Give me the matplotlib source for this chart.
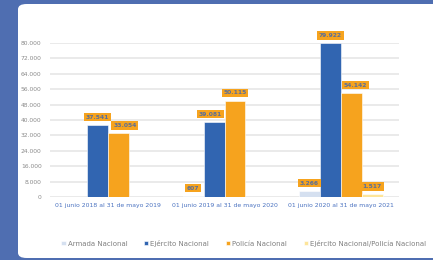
import matplotlib.pyplot as plt
import numpy as np
from matplotlib.patches import FancyBboxPatch

categories = ['01 junio 2018 al 31 de mayo 2019',
              '01 junio 2019 al 31 de mayo 2020',
              '01 junio 2020 al 31 de mayo 2021']
series_names = ['Armada Nacional', 'Ejército Nacional', 'Policía Nacional',
                'Ejército Nacional/Policía Nacional']
armada = [0, 607, 3266]
ejercito = [37541, 39081, 79922]
policia = [33054, 50115, 54142]
ej_pol = [0, 0, 1517]
yticks = [0, 8000, 16000, 24000, 32000, 40000, 48000, 56000, 64000, 72000, 80000]

colors = ['#d5e0f0', '#3165b1', '#f6a31e', '#fde59a']
series = [armada, ejercito, policia, ej_pol]

# small nudges (points) for labels that the original moved to avoid overlap
label_nudge = {(2, 0): 4.5, (1, 1): -2.5, (2, 2): 3.0}

fig = plt.figure(figsize=(4.33, 2.6), dpi=100)
fig.patch.set_facecolor('#4f6eb1')
# white card behind everything
card = FancyBboxPatch((18 / 433, 2 / 260), 1.2, 254 / 260,
                      boxstyle='round,pad=0,rounding_size=0.02',
                      transform=fig.transFigure, facecolor='white',
                      edgecolor='none', zorder=-10)
fig.patches.append(card)

ax = fig.add_axes([50 / 433, 63 / 260, 349 / 433, 154 / 260])
ax.set_zorder(2)
ax.set_facecolor('none')

x = np.arange(len(categories))
w = 0.18
for i, (vals, c) in enumerate(zip(series, colors)):
    pos = x + (i - 1.5) * w
    ax.bar(pos, vals, width=w, color=c, edgecolor='white', linewidth=0.4,
           zorder=3, label=series_names[i])
    for j, (p, v) in enumerate(zip(pos, vals)):
        if v <= 0:
            continue
        ax.annotate(f'{v:,}'.replace(',', '.'), (p, v),
                    xytext=(label_nudge.get((i, j), 0), 5.5),
                    textcoords='offset points', ha='center', va='center',
                    fontsize=4.3, fontweight='bold', color='#5a6f99',
                    bbox=dict(boxstyle='square,pad=0.3', fc='#f6a31e', ec='none'),
                    zorder=5, annotation_clip=False)

ax.set_xlim(-0.5, 2.5)
ax.set_ylim(0, 80000)
ax.set_yticks(yticks)
ax.set_yticklabels([f'{t:,}'.replace(',', '.') for t in yticks],
                   fontsize=4.3, color='#8a8a8a')
ax.set_xticks(x)
ax.set_xticklabels(categories, fontsize=4.4, color='#4a72c0')
ax.tick_params(length=0, axis='y', pad=6)
ax.tick_params(length=0, axis='x', pad=4)
ax.grid(axis='y', color='#e6e6e6', linewidth=1.2, zorder=0)
for s in ax.spines.values():
    s.set_visible(False)

leg = fig.legend(loc='center', bbox_to_anchor=(0.563, 0.065), ncol=4,
                 frameon=False, fontsize=5, handlelength=0.6, handleheight=0.6,
                 handletextpad=0.3, columnspacing=2.4)
leg.set_zorder(3)
for t in leg.get_texts():
    t.set_color('#808080')

fig.savefig('out.png', dpi=100, facecolor=fig.get_facecolor())
